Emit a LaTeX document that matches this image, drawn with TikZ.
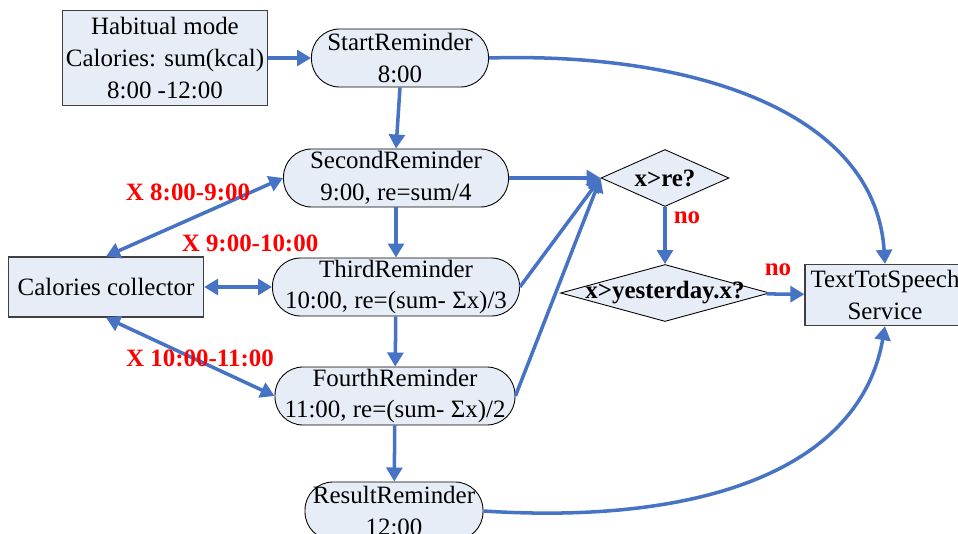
\documentclass[tikz,border=0pt]{standalone}
\usepackage{fontspec}
\setmainfont{Liberation Serif}
\usepackage{xcolor}
\usepackage{tikz}
\usetikzlibrary{arrows.meta,shapes.geometric}

\definecolor{boxfill}{RGB}{231,237,247}
\definecolor{linkblue}{RGB}{70,115,196}

\begin{document}
\begin{tikzpicture}[x=0.02cm, y=-0.02cm,
  font=\fontsize{14.2}{18.2}\selectfont,
  boldtxt/.style={font=\fontsize{14.2}{18.2}\selectfont\bfseries},
  redlabel/.style={boldtxt, text=red},
  infobox/.style={draw=black!75, line width=0.7pt, fill=boxfill, align=center, inner sep=0pt},
  remind/.style={draw=black, line width=0.5pt, fill=boxfill, align=center, inner sep=0pt, rounded corners=0.56cm, minimum height=1.16cm},
  decision/.style={diamond, draw=black, line width=0.5pt, fill=boxfill, inner sep=0pt},
  link/.style={draw=linkblue, line width=2pt, -{Triangle[length=8pt,width=9pt]}},
  biglink/.style={link, {Triangle[length=8pt,width=9pt]}-{Triangle[length=8pt,width=9pt]}}
]
\useasboundingbox (0,0) rectangle (958,534);
\clip (0,0) rectangle (958,534);

% Habitual mode and calories collector
\node[infobox, minimum width=4.1cm, minimum height=1.9cm] (habit) at (165,58) {Habitual mode\\Calories: sum(kcal)\\8:00 -12:00};
\node[infobox, minimum width=3.9cm, minimum height=1.2cm] (collector) at (106,287) {Calories collector};

% Reminders
\node[remind, minimum width=3.54cm] (startrem) at (400,58) {StartReminder\\8:00};
\node[remind, minimum width=4.5cm] (secondrem) at (396,178) {SecondReminder\\9:00, re=sum/4};
\node[remind, minimum width=4.94cm] (thirdrem) at (396,287) {ThirdReminder\\10:00, re=(sum- Σx)/3};
\node[remind, minimum width=4.8cm] (fourthrem) at (395,396) {FourthReminder\\11:00, re=(sum- Σx)/2};
\node[remind, minimum width=3.56cm] (resultrem) at (394,511) {ResultReminder\\12:00};

% Checks and speech service
\node[decision, minimum width=2.56cm, minimum height=1.14cm, label={[boldtxt]center:x>re?}] (checkre) at (665,178) {};
\node[decision, minimum width=4.18cm, minimum height=1.14cm, label={[boldtxt]center:x>yesterday.x?}] (checkyest) at (665,293) {};
\node[infobox, minimum width=3.2cm, minimum height=1.22cm] (tts) at (885,295) {TextTotSpeech\\Service};

% Arrows down the reminder chain
\draw[link] (habit.east) -- (startrem.west);
\draw[link] (startrem.south) -- (secondrem.north);
\draw[link] (secondrem) -- (thirdrem);
\draw[link] (thirdrem) -- (fourthrem);
\draw[link] (fourthrem) -- (resultrem);

% Collector exchanges
\draw[biglink] (collector.north) -- (secondrem.west);
\draw[biglink] (collector) -- (thirdrem);
\draw[biglink] (collector.south) -- (fourthrem.west);

% Into the checks
\draw[link] (secondrem.east) -- (checkre.west);
\draw[link] (thirdrem.east) -- (checkre.west);
\draw[link] (fourthrem.east) -- (checkre.west);
\draw[link] (checkre) -- (checkyest);
\draw[link] (checkyest) -- (tts);

% Curves to the speech service
\draw[link] (startrem.east) .. controls (690,52) and (875,110) .. (tts.north);
\draw[link] (resultrem.east) .. controls (700,525) and (860,470) .. (tts.south);

% Red labels
\node[redlabel] (lab1) at (188,192) {X 8:00-9:00};
\node[redlabel] (lab2) at (250,243) {X 9:00-10:00};
\node[redlabel] (lab3) at (200,358) {X 10:00-11:00};
\node[redlabel] (no1) at (687,218) {no};
\node[redlabel] (no2) at (778,270) {no};
\end{tikzpicture}
\end{document}
